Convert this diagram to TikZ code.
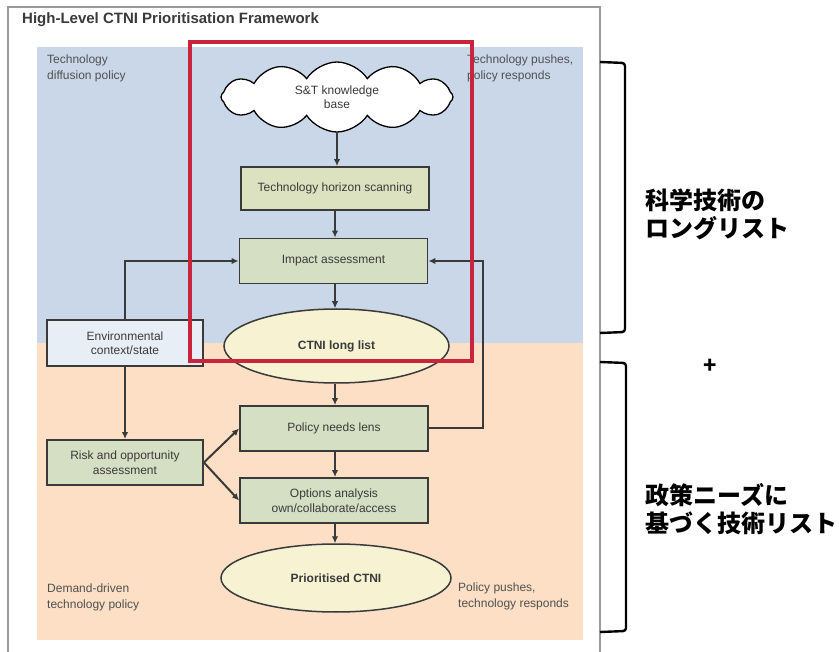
\documentclass[tikz,border=0pt]{standalone}
\usepackage{fontspec}
\setmainfont{Liberation Sans}
\newfontfamily\jpfont{Noto Sans CJK JP}
\usetikzlibrary{arrows.meta,shapes.geometric,shapes.symbols}

\definecolor{framegray}{HTML}{9A9A9A}
\definecolor{pushblue}{HTML}{CAD7E9}
\definecolor{pullpeach}{HTML}{FCDFC4}
\definecolor{boxgreen}{HTML}{D5DFC3}
\definecolor{scangreen}{HTML}{DCE2C0}
\definecolor{ovalcream}{HTML}{F7F2D2}
\definecolor{envblue}{HTML}{E8EEF6}
\definecolor{inkgray}{HTML}{3A3A3A}
\definecolor{labelgray}{HTML}{505050}
\definecolor{markred}{HTML}{C8243C}

\tikzset{
  txt/.style={font=\fontsize{12}{14.5}\selectfont, text=inkgray, align=center},
  procbox/.style={txt, draw=inkgray, line width=1.8pt, fill=boxgreen,
    minimum width=188pt, minimum height=45pt, inner sep=2pt},
  sidebox/.style={procbox, minimum width=156pt},
  oval/.style={txt, ellipse, draw=inkgray, line width=1.5pt, fill=ovalcream, inner sep=0pt},
  conn/.style={draw=inkgray, line width=2pt, -{Latex[length=7pt,width=6.5pt]}},
  cornerlabel/.style={font=\fontsize{12}{15.5}\selectfont, text=labelgray, align=left, anchor=north west, inner sep=0pt},
  brace/.style={draw=black, line width=2.4pt, rounded corners=3pt},
  jplabel/.style={font=\jpfont\bfseries\fontsize{24}{28}\selectfont, align=left, anchor=west, inner sep=0pt}
}

\begin{document}
\begin{tikzpicture}[x=1pt,y=-1pt]
\useasboundingbox (0,0) rectangle (839,652);
\fill[white] (0,0) rectangle (839,652);

% outer frame of the figure
\draw[framegray, line width=1.2pt] (8,652) -- (8,7) -- (600,7) -- (600,652);
\node[anchor=west, font=\bfseries\fontsize{15}{18}\selectfont, text=inkgray, inner sep=0pt] (title) at (22,20) {High-Level CTNI Prioritisation Framework};

% the two policy regions
\fill[pushblue] (37,47) rectangle (583,343);
\fill[pullpeach] (37,343) rectangle (583,640);

\node[cornerlabel] (tl) at (47,55) {Technology\\diffusion policy};
\node[cornerlabel] (tr) at (467,55) {Technology pushes,\\policy responds};
\node[cornerlabel] (bl) at (47,584) {Demand-driven\\technology policy};
\node[cornerlabel] (br) at (458,583) {Policy pushes,\\technology responds};

% main chain
\node[txt, cloud, cloud puffs=12, cloud puff arc=115, aspect=3.2, draw=black, line width=1.3pt,
      fill=white, minimum width=232pt, minimum height=70pt, inner sep=0pt] (kb) at (337,97) {S\&T knowledge\\base};
\node[procbox, fill=scangreen, minimum height=43pt] (ths) at (335,188.5) {Technology horizon scanning};
\node[procbox] (imp) at (333.5,261) {Impact assessment};
\node[oval, minimum width=225pt, minimum height=74pt] (longl) at (336.5,346) {\bfseries CTNI long list};
\node[procbox] (pnl) at (334,428.5) {Policy needs lens};
\node[procbox] (opt) at (334,500.5) {Options analysis\\own/collaborate/access};
\node[oval, minimum width=230pt, minimum height=68pt] (prio) at (336,578) {\bfseries Prioritised CTNI};

% side inputs
\node[sidebox, fill=envblue, minimum height=46pt] (env) at (125,343) {Environmental\\context/state};
\node[sidebox, minimum height=45pt] (risk) at (125,462.5) {Risk and opportunity\\assessment};

% connectors
\draw[conn] (kb.south |- 0,132) -- (ths.north -| kb.south);
\draw[conn] (ths.south -| 335,0) -- (imp.north -| 335,0);
\draw[conn] (imp.south -| 335,0) -- (longl.north -| 335,0);
\draw[conn] (longl.south -| 335,0) -- (pnl.north -| 335,0);
\draw[conn] (pnl.south -| 335,0) -- (opt.north -| 335,0);
\draw[conn] (opt.south -| 335,0) -- (prio.north -| 335,0);

\draw[conn] (env.north) |- (imp.west);
\draw[conn] (env.south) -- (risk.north);
\draw[conn] (risk.east) -- (pnl.west);
\draw[conn] (risk.east) -- (opt.west);

\coordinate (fb) at (483,0);
\draw[conn] (pnl.east) -- (pnl.east -| fb) -- (imp.east -| fb) -- (imp.east);

% highlight around the science-and-technology long list stage
\draw[markred, line width=3.5pt] (190,42) rectangle (472,361);

% brackets and annotations on the right
\draw[brace] (600,62) -- (625,63) -- (625,332) -- (600,333);
\draw[brace] (600,362) -- (626,363) -- (626,631) -- (600,632);

\node[jplabel] (jp1) at (645,214) {科学技術の\\ロングリスト};
\node[font=\jpfont\bfseries\fontsize{22}{24}\selectfont, inner sep=0pt] (plus) at (710,366) {+};
\node[jplabel] (jp2) at (645,509) {政策ニーズに\\基づく技術リスト};
\end{tikzpicture}
\end{document}
